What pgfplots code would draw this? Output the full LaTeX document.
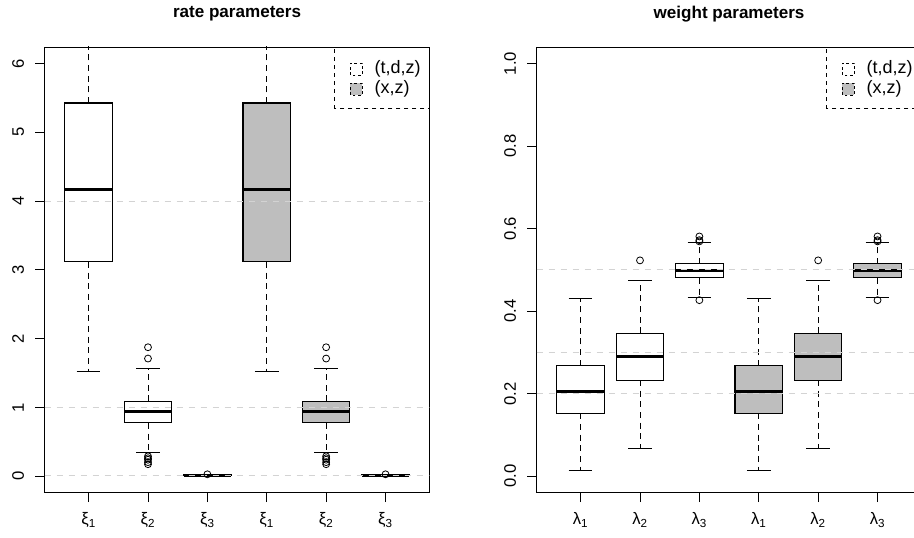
\documentclass[border=0pt]{standalone}
\usepackage{fontspec}
\setmainfont{Liberation Sans}
\usepackage{pgfplots}
\pgfplotsset{compat=1.18}
\usepgfplotslibrary{statistics}

\definecolor{boxgray}{HTML}{BEBEBE}
\definecolor{refgray}{HTML}{D3D3D3}

\pgfplotsset{
  rpanel/.style={
    scale only axis, width=288.6pt, height=334.3pt,
    xmin=0.26, xmax=6.74, xtick={1,...,6},
    axis line style={line width=0.6pt},
    tick align=outside, tick pos=left, major tick length=7pt,
    tick style={black, line width=0.6pt},
    ticklabel style={font=\fontsize{12.5}{15}\selectfont},
    yticklabel style={xshift=-5pt, rotate=90, anchor=south},
    xticklabel style={yshift=-4.5pt},
    title style={font=\bfseries\fontsize{12.8}{15}\selectfont, at={(0.5,1)}, anchor=center, yshift=19pt},
  },
  rbox/.style={
    black, solid, mark=o, mark size=2.6pt,
    mark options={solid, line width=0.6pt, fill=none},
    boxplot/draw direction=y,
    boxplot/every box/.style={draw=black, line width=0.8pt, fill=#1},
    boxplot/every median/.style={line width=2.2pt},
    boxplot/every whisker/.style={line width=0.7pt},
    boxplot/box extend=0.8, boxplot/whisker extend=0.4,
    boxplot/draw/lower whisker/.code={%
      \draw[/pgfplots/boxplot/every whisker/.try, dash pattern=on 4.5pt off 3.5pt]
        (boxplot cs:\pgfplotsboxplotvalue{lower quartile}) -- (boxplot cs:\pgfplotsboxplotvalue{lower whisker});
      \draw[/pgfplots/boxplot/every whisker/.try, solid]
        (boxplot whisker cs:\pgfplotsboxplotvalue{lower whisker},0) -- (boxplot whisker cs:\pgfplotsboxplotvalue{lower whisker},1);
    },
    boxplot/draw/upper whisker/.code={%
      \draw[/pgfplots/boxplot/every whisker/.try, dash pattern=on 4.5pt off 3.5pt]
        (boxplot cs:\pgfplotsboxplotvalue{upper quartile}) -- (boxplot cs:\pgfplotsboxplotvalue{upper whisker});
      \draw[/pgfplots/boxplot/every whisker/.try, solid]
        (boxplot whisker cs:\pgfplotsboxplotvalue{upper whisker},0) -- (boxplot whisker cs:\pgfplotsboxplotvalue{upper whisker},1);
    },
  },
  refline/.style={refgray, line width=0.7pt, dash pattern=on 4.5pt off 4.5pt, forget plot},
}

% legend drawn inside each panel
\newcommand{\rlegend}{%
  \draw[black, line width=0.6pt, dash pattern=on 3pt off 3pt] (rel axis cs:0.752,0.8616) rectangle (rel axis cs:1,1);
  \draw[black, line width=0.6pt, dash pattern=on 2pt off 2pt, fill=white] (rel axis cs:0.7938,0.9371) rectangle (rel axis cs:0.8258,0.9633);
  \draw[black, line width=0.6pt, dash pattern=on 2pt off 2pt, fill=boxgray] (rel axis cs:0.7938,0.8922) rectangle (rel axis cs:0.8258,0.9184);
  \node[anchor=west, font=\fontsize{13.5}{16}\selectfont, inner sep=0pt] at (rel axis cs:0.857,0.9502) {(t,d,z)};
  \node[anchor=west, font=\fontsize{13.5}{16}\selectfont, inner sep=0pt] at (rel axis cs:0.857,0.9053) {(x,z)};
}

\begin{document}
\begin{tikzpicture}
\path[use as bounding box] (0,0) rectangle (685.5pt,402.75pt);
\clip (0,0) rectangle (685.5pt,402.75pt);

% ---- rate parameters ----
\begin{axis}[rpanel, at={(33.5pt,33.2pt)}, anchor=south west,
  title={rate parameters},
  ymin=-0.24, ymax=6.24, ytick={0,...,6}, yticklabels={0,1,2,3,4,5,6},
  xticklabels={ξ\textsubscript{1},ξ\textsubscript{2},ξ\textsubscript{3},ξ\textsubscript{1},ξ\textsubscript{2},ξ\textsubscript{3}}]
  \addplot[rbox=white, boxplot prepared={draw position=1, lower whisker=1.526, lower quartile=3.115, median=4.167, upper quartile=5.426, upper whisker=8.5}] coordinates {};
  \addplot[rbox=white, boxplot prepared={draw position=2, lower whisker=0.339, lower quartile=0.775, median=0.945, upper quartile=1.090, upper whisker=1.560}]
    table[row sep=\\, y index=0] {y\\ 1.875\\ 1.711\\ 0.290\\ 0.262\\ 0.240\\ 0.205\\ 0.175\\};
  \addplot[rbox=white, boxplot prepared={draw position=3, lower whisker=0.003, lower quartile=0.009, median=0.013, upper quartile=0.018, upper whisker=0.024}]
    table[row sep=\\, y index=0] {y\\ 0.028\\};
  \addplot[rbox=boxgray, boxplot prepared={draw position=4, lower whisker=1.526, lower quartile=3.115, median=4.167, upper quartile=5.426, upper whisker=8.5}] coordinates {};
  \addplot[rbox=boxgray, boxplot prepared={draw position=5, lower whisker=0.339, lower quartile=0.775, median=0.945, upper quartile=1.090, upper whisker=1.560}]
    table[row sep=\\, y index=0] {y\\ 1.875\\ 1.711\\ 0.290\\ 0.262\\ 0.240\\ 0.205\\ 0.175\\};
  \addplot[rbox=boxgray, boxplot prepared={draw position=6, lower whisker=0.003, lower quartile=0.009, median=0.013, upper quartile=0.018, upper whisker=0.024}]
    table[row sep=\\, y index=0] {y\\ 0.028\\};
  \addplot[refline] coordinates {(0.26,0.01) (6.74,0.01)};
  \addplot[refline] coordinates {(0.26,1) (6.74,1)};
  \addplot[refline] coordinates {(0.26,4) (6.74,4)};
  \rlegend
\end{axis}

% ---- weight parameters ----
\begin{axis}[rpanel, at={(402.5pt,33.2pt)}, anchor=south west,
  title={weight parameters},
  ymin=-0.04, ymax=1.04, ytick={0,0.2,0.4,0.6,0.8,1}, yticklabels={0.0,0.2,0.4,0.6,0.8,1.0},
  xticklabels={λ\textsubscript{1},λ\textsubscript{2},λ\textsubscript{3},λ\textsubscript{1},λ\textsubscript{2},λ\textsubscript{3}}]
  \addplot[rbox=white, boxplot prepared={draw position=1, lower whisker=0.0136, lower quartile=0.1524, median=0.2056, upper quartile=0.2676, upper whisker=0.4307}] coordinates {};
  \addplot[rbox=white, boxplot prepared={draw position=2, lower whisker=0.0668, lower quartile=0.233, median=0.291, upper quartile=0.346, upper whisker=0.474}]
    table[row sep=\\, y index=0] {y\\ 0.523\\};
  \addplot[rbox=white, boxplot prepared={draw position=3, lower whisker=0.433, lower quartile=0.4806, median=0.4985, upper quartile=0.5144, upper whisker=0.5676}]
    table[row sep=\\, y index=0] {y\\ 0.581\\ 0.572\\ 0.569\\ 0.4266\\};
  \addplot[rbox=boxgray, boxplot prepared={draw position=4, lower whisker=0.0136, lower quartile=0.1524, median=0.2056, upper quartile=0.2676, upper whisker=0.4307}] coordinates {};
  \addplot[rbox=boxgray, boxplot prepared={draw position=5, lower whisker=0.0668, lower quartile=0.233, median=0.291, upper quartile=0.346, upper whisker=0.474}]
    table[row sep=\\, y index=0] {y\\ 0.523\\};
  \addplot[rbox=boxgray, boxplot prepared={draw position=6, lower whisker=0.433, lower quartile=0.4806, median=0.4985, upper quartile=0.5144, upper whisker=0.5676}]
    table[row sep=\\, y index=0] {y\\ 0.581\\ 0.572\\ 0.569\\ 0.4266\\};
  \addplot[refline] coordinates {(0.26,0.2) (6.74,0.2)};
  \addplot[refline] coordinates {(0.26,0.3) (6.74,0.3)};
  \addplot[refline] coordinates {(0.26,0.5) (6.74,0.5)};
  \rlegend
\end{axis}
\end{tikzpicture}
\end{document}
